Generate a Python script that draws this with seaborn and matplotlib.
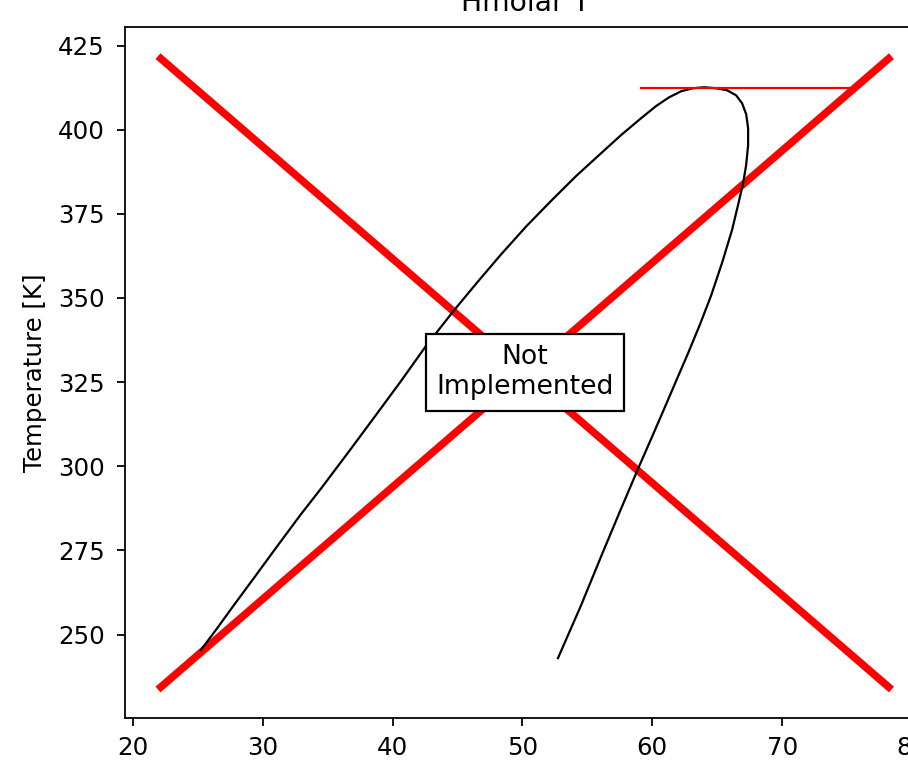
import numpy as np
import pandas as pd
import matplotlib
matplotlib.use("Agg")
import matplotlib.pyplot as plt
import seaborn as sns

# saturation curve (molar enthalpy vs temperature)
dome_x = [25.24, 26.39, 27.78, 29.48, 31.17, 32.94, 34.48, 36.80, 38.72,
          40.65, 42.57, 44.73, 46.58, 48.35, 50.28, 52.20, 54.13, 56.06,
          57.60, 59.14, 60.29, 61.29, 62.22, 63.14, 63.99,
          64.92, 65.76, 66.46, 66.92, 67.23, 67.38, 67.38, 67.23, 67.00,
          66.61, 66.15, 65.38, 64.53, 63.68, 62.76, 61.83, 60.91, 59.91,
          58.91, 57.60, 56.06, 54.52, 52.74]
dome_y = [245.4, 251.3, 258.7, 267.6, 276.5, 285.7, 293.3, 305.2, 315.2,
          325.3, 335.7, 346.3, 354.9, 362.9, 371.2, 378.8, 386.2, 393.0,
          398.4, 403.4, 407.0, 409.6, 411.4, 412.3, 412.6,
          412.3, 411.7, 410.2, 407.8, 404.6, 400.4, 395.4, 389.5, 384.2,
          377.7, 370.3, 360.5, 350.7, 342.2, 333.6, 325.3, 317.0, 308.1,
          299.3, 287.4, 273.2, 258.7, 243.0]

# critical isotherm segment
crit_x = [59.14, 75.16]
crit_y = [412.3, 412.3]

# "not implemented" cross over the data range
cross_x = [22.16, 78.2]
cross_down = [421.1, 234.4]
cross_up = [234.4, 421.1]

title = "Hmolar T"
ylabel = "Temperature [K]"
xticks = [20, 30, 40, 50, 60, 70, 80]
yticks = [250, 275, 300, 325, 350, 375, 400, 425]

dpi = 160
fig = plt.figure(figsize=(908 / dpi, 774 / dpi), dpi=dpi)
# axes runs past the right and top edge (cropped view)
ax = fig.add_axes([125 / 908, 56 / 774, 800 / 908, 691 / 774])

sns.lineplot(x=cross_x, y=cross_down, color="red", linewidth=3.4, ax=ax)
sns.lineplot(x=cross_x, y=cross_up, color="red", linewidth=3.4, ax=ax)
sns.lineplot(x=dome_x, y=dome_y, sort=False, estimator=None,
             color="black", linewidth=1.0, solid_joinstyle="round", ax=ax)
sns.lineplot(x=crit_x, y=crit_y, color="red", linewidth=1.0, ax=ax)

ax.set_xlim(19.4, 81.0)
ax.set_ylim(225.2, 430.5)
ax.set_xticks(xticks)
ax.set_yticks(yticks)
ax.tick_params(axis="both", labelsize=11, length=3.75)
ax.tick_params(axis="x", pad=4.5)
ax.tick_params(axis="y", pad=5.3)
ax.set_ylabel(ylabel, fontsize=11, labelpad=5)
ax.set_title(title, fontsize=12.7, pad=7)

ax.text(0.5, 0.5, "Not\nImplemented", transform=ax.transAxes,
        ha="center", va="center", fontsize=12,
        bbox=dict(facecolor="white", edgecolor="black", pad=4.5))

fig.savefig("out.png", dpi=dpi)
